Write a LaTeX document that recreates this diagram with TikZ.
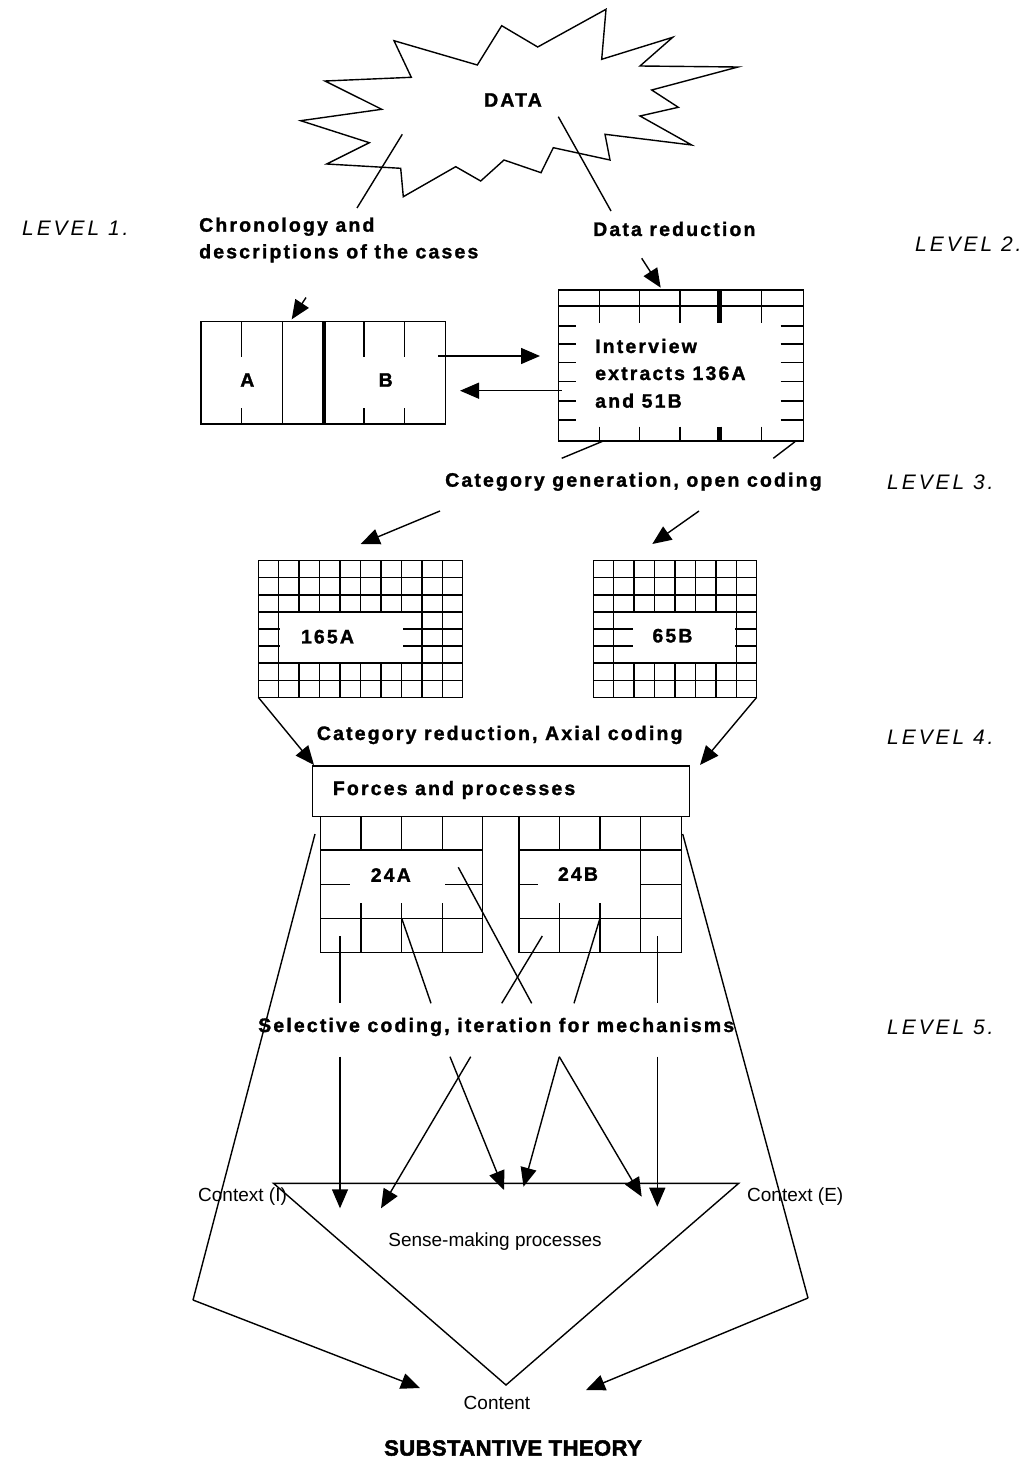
\documentclass[tikz,border=0pt]{standalone}
\usepackage{fontspec}
\setmainfont{Liberation Sans}
\newfontface\boldsp{Liberation Sans Bold}[LetterSpace=11, FakeBold=1.4]
\newfontface\titlesp{Liberation Sans Bold}[LetterSpace=2, FakeBold=2.2]
\newfontface\levsp{Liberation Sans Italic}[LetterSpace=14]
\usetikzlibrary{arrows.meta}
\tikzset{
  ln/.style={line width=1.4pt},
  thk/.style={line width=4.5pt},
  arr/.style={line width=1.4pt,-{Triangle[length=19pt,width=16pt]}},
  btxt/.style={font=\boldsp\fontsize{19.5}{27}\selectfont, inner sep=0pt},
  ltxt/.style={font=\levsp\fontsize{21}{24}\selectfont, inner sep=0pt, anchor=west},
  rtxt/.style={font=\fontsize{19}{23}\selectfont, inner sep=0pt},
  ttxt/.style={font=\titlesp\fontsize{22}{26}\selectfont, inner sep=0pt},
}
\begin{document}
\begin{tikzpicture}[x=1pt,y=-1pt]
\useasboundingbox (0,0) rectangle (1029,1472);
\fill[white] (0,0) rectangle (1029,1472);

% ---------- star ----------
\draw[ln, line join=miter] (394,40.7) -- (477.3,65) -- (501.7,25.7) -- (537.7,47) -- (606,9.3) -- (601.7,59.3)
  -- (672.7,37.3) -- (640,66) -- (738,67) -- (651.7,90) -- (678.3,107.3) -- (640,116) -- (691.7,145)
  -- (605,134.3) -- (610,160) -- (553.3,147.7) -- (541,172.7) -- (504,160) -- (480.7,181) -- (455.7,166.7)
  -- (403.3,196.7) -- (400.7,168.3) -- (326.7,164) -- (369.3,142.7) -- (300.7,120.7) -- (381.7,109.3)
  -- (325,81) -- (411.3,77.3) -- cycle;
\node[btxt] (data) at (513,100) {DATA};
\coordinate (sl1) at (402.3,134.3); \coordinate (sl2) at (357,208);
\coordinate (sr1) at (558.3,116.7); \coordinate (sr2) at (611,211);
\draw[ln] (sl1) -- (sl2);
\draw[ln] (sr1) -- (sr2);

% ---------- level labels ----------
\node[ltxt] (lev1) at (22,228) {LEVEL 1.};
\node[ltxt] (lev2) at (915,244) {LEVEL 2.};
\node[ltxt] (lev3) at (887,482) {LEVEL 3.};
\node[ltxt] (lev4) at (887,737) {LEVEL 4.};
\node[ltxt] (lev5) at (887,1027) {LEVEL 5.};

\node[btxt, anchor=west] (chrono1) at (199,226.7) {Chronology and};
\node[btxt, anchor=west] (chrono2) at (199,253.3) {descriptions of the cases};
\node[btxt, anchor=west] (datared) at (593,229) {Data reduction};

% ---------- A/B box ----------
\draw[ln] (201,321.7) rectangle (445.7,424);
\draw[ln] (241.7,321.7) -- (241.7,356.7) (241.7,408.3) -- (241.7,424);
\draw[ln] (282.3,321.7) -- (282.3,424);
\draw[thk] (324,321.7) -- (324,424);
\draw[ln] (364,321.7) -- (364,356.7) (364,408.3) -- (364,424);
\draw[ln] (404.3,321.7) -- (404.3,356.7) (404.3,408.3) -- (404.3,424);
\node[btxt] (A) at (247.3,380) {A};
\node[btxt] (B) at (385.7,380) {B};

% ---------- interview box ----------
\draw[ln] (558.3,290) rectangle (803.3,441);
\draw[ln] (558.3,306) -- (803.3,306);
\foreach \x in {599.3,639.3,680,761.7}{
  \draw[ln] (\x,290) -- (\x,322.7) (\x,426.7) -- (\x,441);
}
\draw[line width=5pt] (719,290) -- (719,322.7) (719,426.7) -- (719,441);
\foreach \y in {326,344,362.7,381.7,401,420}{
  \draw[ln] (558.3,\y) -- (576,\y) (780.7,\y) -- (803.3,\y);
}
\node[btxt, anchor=west] (int1) at (595,346) {Interview};
\node[btxt, anchor=west] (int2) at (595,373.3) {extracts 136A};
\node[btxt, anchor=west] (int3) at (595,400.7) {and 51B};

% arrows level 1-2
\coordinate (ca1) at (306,297.5); \coordinate (ca2) at (291.7,319.3);
\draw[arr] (ca1) -- (ca2);
\coordinate (da1) at (641.7,258.3); \coordinate (da2) at (660.7,287.7);
\draw[arr] (da1) -- (da2);
\coordinate (ab1) at (438.3,356); \coordinate (ab2) at (540,356);
\draw[arr] (ab1) -- (ab2);
\coordinate (ba1) at (561.7,390.7); \coordinate (ba2) at (460,390.7);
\draw[arr] (ba1) -- (ba2);

% ---------- level 3 ----------
\coordinate (il1) at (603.3,441); \coordinate (il2) at (561.7,458.3);
\coordinate (ir1) at (795,441.7); \coordinate (ir2) at (773.3,458.3);
\draw[ln] (il1) -- (il2);
\draw[ln] (ir1) -- (ir2);
\node[btxt, anchor=west] (catgen) at (445,481.7) {Category generation, open coding};
\coordinate (g1a) at (440,511); \coordinate (g1b) at (360.7,544);
\coordinate (g2a) at (699,511); \coordinate (g2b) at (652.3,544);
\draw[arr] (g1a) -- (g1b);
\draw[arr] (g2a) -- (g2b);

% grid 165A
\foreach \i in {0,...,10}{ \draw[ln] ({258.3+20.44*\i},560.7) -- ({258.3+20.44*\i},697.3); }
\foreach \j in {0,...,8}{ \draw[ln] (258.3,{560.7+17.08*\j}) -- (462.7,{560.7+17.08*\j}); }
\fill[white] (279.54,612.74) rectangle (402.6,662.38);
\node[btxt] (n165) at (327.5,636.7) {165A};

% grid 65B
\foreach \i in {0,...,8}{ \draw[ln] ({593.3+20.42*\i},560.7) -- ({593.3+20.42*\i},697.3); }
\foreach \j in {0,...,8}{ \draw[ln] (593.3,{560.7+17.08*\j}) -- (756.7,{560.7+17.08*\j}); }
\fill[white] (632.94,612.74) rectangle (735.44,662.38);
\node[btxt] (n65) at (672.5,635.7) {65B};

% ---------- level 4 ----------
\node[btxt, anchor=west] (catred) at (316.7,735) {Category reduction, Axial coding};
\coordinate (r1a) at (258.3,697.3); \coordinate (r1b) at (314,765);
\coordinate (r2a) at (756.7,697.3); \coordinate (r2b) at (700,765);
\draw[arr] (r1a) -- (r1b);
\draw[arr] (r2a) -- (r2b);

% grid 24A
\draw[ln] (320.7,816.7) rectangle (482.7,952.7);
\foreach \x in {361,401.7,442.7}{ \draw[ln] (\x,816.7) -- (\x,952.7); }
\foreach \y in {850,884.3,918.3}{ \draw[ln] (320.7,\y) -- (482.7,\y); }
\fill[white] (350,850.8) rectangle (445,902.7);
\node[btxt] (n24a) at (390.8,875) {24A};

% grid 24B
\draw[ln] (519,816.7) rectangle (681.7,952.7);
\foreach \x in {559.3,600,640.7}{ \draw[ln] (\x,816.7) -- (\x,952.7); }
\foreach \y in {850,884.3,918.3}{ \draw[ln] (519,\y) -- (681.7,\y); }
\fill[white] (537.7,850.8) rectangle (639.9,902.7);
\node[btxt] (n24b) at (578,874) {24B};

% forces box
\draw[ln, fill=white] (312.7,766) rectangle (689.3,816.7);
\node[btxt, anchor=west] (forces) at (332.7,790) {Forces and processes};

% ---------- level 5 ----------
\node[btxt, anchor=west] (selcod) at (258,1027) {Selective coding, iteration for mechanisms};

% lines above the text
\coordinate (u1a) at (340,936);   \coordinate (u1b) at (340,1003.3);
\coordinate (u2a) at (401.7,918.3); \coordinate (u2b) at (431,1003.3);
\coordinate (u3a) at (458.3,867.3); \coordinate (u3b) at (531.7,1003.3);
\coordinate (u4a) at (542.3,936); \coordinate (u4b) at (501.7,1003.3);
\coordinate (u5a) at (600,918.3); \coordinate (u5b) at (574,1003.3);
\coordinate (u6a) at (657.3,936); \coordinate (u6b) at (657.3,1003.3);
\foreach \k in {1,...,6}{ \draw[ln] (u\k a) -- (u\k b); }

% triangle
\coordinate (tl) at (273.5,1183.3);
\coordinate (tr) at (738.7,1183.3);
\coordinate (tb) at (506,1385);
\draw[ln] (tl) -- (tr) -- (tb) -- cycle;

% arrows below the text
\coordinate (d1a) at (340,1056.7);   \coordinate (d1b) at (340,1208.3);
\coordinate (d2a) at (450,1056.7);   \coordinate (d2b) at (504,1190);
\coordinate (d3a) at (470.7,1056.7); \coordinate (d3b) at (381,1208.3);
\coordinate (d4a) at (559.3,1056.7); \coordinate (d4b) at (523.5,1186.7);
\coordinate (d4c) at (641.7,1196.7);
\coordinate (d5a) at (657.3,1056.7); \coordinate (d5b) at (657.3,1206.7);
\draw[arr] (d1a) -- (d1b);
\draw[arr] (d2a) -- (d2b);
\draw[arr] (d3a) -- (d3b);
\draw[arr] (d4a) -- (d4b);
\draw[arr] (d4a) -- (d4c);
\draw[arr] (d5a) -- (d5b);

% long side lines
\coordinate (L1) at (315,834); \coordinate (L2) at (193,1300); \coordinate (L3) at (420,1388);
\coordinate (R1) at (682.7,834); \coordinate (R2) at (808,1298); \coordinate (R3) at (586,1390);
\draw[ln] (L1) -- (L2);
\draw[arr] (L2) -- (L3);
\draw[ln] (R1) -- (R2);
\draw[arr] (R2) -- (R3);

\node[rtxt, anchor=west] (ctxi) at (198,1196.7) {Context (I)};
\node[rtxt, anchor=west] (ctxe) at (747,1196.7) {Context (E)};
\node[rtxt] (sense) at (495,1241.7) {Sense-making processes};
\node[rtxt] (content) at (497,1403) {Content};
\node[ttxt] (title) at (513,1448) {SUBSTANTIVE THEORY};
\end{tikzpicture}
\end{document}
